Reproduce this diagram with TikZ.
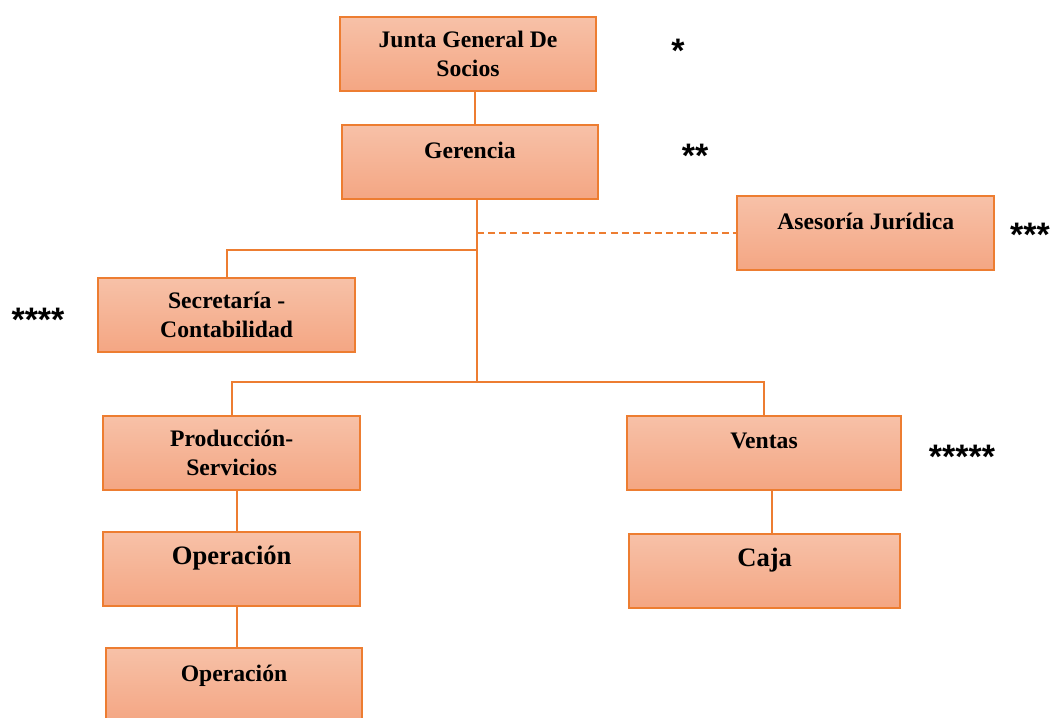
\documentclass[tikz,border=0pt]{standalone}
\usepackage{fontspec}
\setmainfont{Liberation Serif}
\newfontfamily\starfont{Liberation Sans}
\usepackage{tikz}

\definecolor{orgline}{RGB}{237,125,49}
\definecolor{orgtop}{RGB}{247,193,168}
\definecolor{orgbot}{RGB}{244,166,131}

\begin{document}
\begin{tikzpicture}[
        cargo/.style={draw=orgline, line width=1.9pt, top color=orgtop, bottom color=orgbot,
            minimum width=7.7cm, minimum height=2.22cm, align=center,
            font=\bfseries\fontsize{20.2}{24.8}\selectfont},
        cargogr/.style={cargo, font=\bfseries\fontsize{22.7}{27.5}\selectfont},
        nivel/.style={font=\starfont\bfseries\fontsize{29}{30}\selectfont},
        linea/.style={draw=orgline, line width=1.7pt}]
                \useasboundingbox (0,0) rectangle (31.53,-21.54);
                \node[cargo] at (14.04,-1.62)  (junta) {Junta General De\\Socios};
                \node[cargo] at (14.10,-4.85)  (gerencia) {Gerencia\\[-5pt]~};
                \node[cargo] at (25.97,-7.00)  (asesoria) {Asesoría Jurídica\\[-4pt]~};
                \node[cargo] at (6.80,-9.45)  (secretaria) {Secretaría -\\Contabilidad};
                \node[cargo] at (6.95,-13.59)  (produccion) {Producción-\\Servicios};
                \node[cargogr] at (6.95,-17.07)  (operacion) {Operación\\[-4pt]~};
                \node[cargo] at (7.02,-20.55)  (operacionb) {Operación\\[-4pt]~};
                \node[cargo, minimum width=8.2cm] at (22.92,-13.58)  (ventas) {Ventas\\[-4pt]~};
                \node[cargogr, minimum width=8.13cm] at (22.94,-17.12)  (caja) {Caja\\[-4pt]~};
                \coordinate (rama) at (14.31,-7.50);
                \coordinate (eje) at (14.31,-11.46);
                \draw[linea] ([xshift=0.2cm]junta.south) -- ([xshift=0.2cm]junta.south |- gerencia.north);
                \draw[linea] (gerencia.south -| eje) -- (eje);
                \draw[linea, dash pattern=on 6pt off 3.5pt] (eje |- asesoria.west) -- (asesoria.west);
                \draw[linea] (rama) -| (secretaria.north);
                \draw[linea] (produccion.north) |- (eje) -| (ventas.north);
                \draw[linea] ([xshift=0.16cm]produccion.south) -- ([xshift=0.16cm]produccion.south |- operacion.north);
                \draw[linea] ([xshift=0.16cm]operacion.south) -- ([xshift=0.16cm]operacion.south |- operacionb.north);
                \draw[linea] ([xshift=0.24cm]ventas.south) -- ([xshift=0.24cm]ventas.south |- caja.north);
                \node[nivel] at (20.34,-1.53) (n1) {*};
                \node[nivel] at (20.85,-4.68) (n2) {**};
                \node[nivel] at (30.90,-7.05) (n3) {***};
                \node[nivel] at (1.14,-9.60) (n4) {****};
                \node[nivel] at (28.86,-13.71) (n5) {*****};
            \end{tikzpicture}
\end{document}
